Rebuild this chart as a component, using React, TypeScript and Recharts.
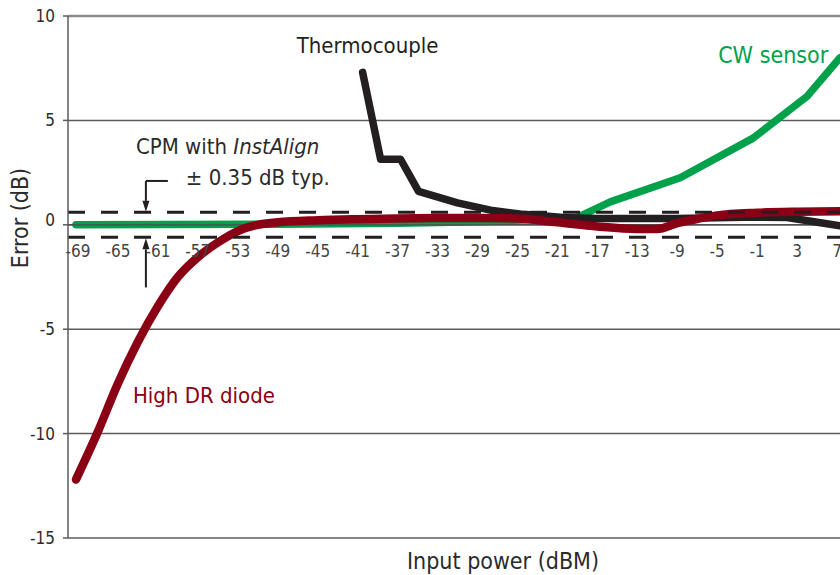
import React from 'react';
import {
  LineChart,
  Line,
  XAxis,
  YAxis,
  CartesianGrid,
  ReferenceLine,
  ReferenceDot,
  Label,
} from 'recharts';

// ---- data ----
const cwSensorPower = [-69.2, -49, -37, -29, -23, -21, -19.3, -15.7, -8.7, -1.4, 4, 7.3];
const cwSensorError = [0, 0.03, 0.08, 0.15, 0.25, 0.3, 0.28, 1.1, 2.25, 4.15, 6.15, 8.0];

const thermoPower = [-40.5, -38.7, -36.7, -34.9, -31, -27.7, -24.4, -20.4, -17, -9, -1, 2, 7.3];
const thermoError = [7.3, 3.14, 3.14, 1.6, 1.05, 0.7, 0.5, 0.35, 0.3, 0.3, 0.37, 0.35, -0.05];

const diodePower = [-69.2, -67, -65, -63, -61, -59, -57, -55, -53, -51, -49, -45, -41, -37, -33, -29, -25, -21, -17, -13, -11, -9, -7, -5, -1, 3, 7.3];
const diodeError = [-12.2, -9.9, -7.6, -5.6, -3.9, -2.5, -1.55, -0.85, -0.3, 0.0, 0.12, 0.22, 0.27, 0.3, 0.32, 0.33, 0.3, 0.12, -0.08, -0.2, -0.2, 0.08, 0.28, 0.45, 0.58, 0.63, 0.65];

const xTicks = [-69, -65, -61, -57, -53, -49, -45, -41, -37, -33, -29, -25, -21, -17, -13, -9, -5, -1, 3, 7];
const yTicks = [-15, -10, -5, 0, 5, 10];
const xDomain = [-70, 7.3];
const yDomain = [-15, 10];
const bandHalfWidth = 0.6;

const zip = (xs: number[], ys: number[]) => xs.map((p, i) => ({ power: p, error: ys[i] }));
const cwData = zip(cwSensorPower, cwSensorError);
const thermoData = zip(thermoPower, thermoError);
const diodeData = zip(diodePower, diodeError);

// ---- styling ----
const W = 840;
const H = 575;
const PLOT_TOP = 16;
const X_AXIS_H = 37;
const Y_AXIS_W = 68;
const PLOT_BOTTOM = H - X_AXIS_H;
const ZERO_Y = PLOT_TOP + ((PLOT_BOTTOM - PLOT_TOP) * (yDomain[1] - 0)) / (yDomain[1] - yDomain[0]);

const FONT = "'DejaVu Sans Condensed', 'DejaVu Sans', sans-serif";
const GREEN = '#00A14B';
const RED = '#8A0014';
const BLACK = '#231F20';
const GRID = '#5b5b5b';
const TEXT = '#2b2b2b';
const COND = { fontStretch: 'condensed' } as React.CSSProperties;

const XTick = (props: any) => {
  const { x, y, payload } = props;
  return (
    <text
      x={x}
      y={y - (PLOT_BOTTOM - ZERO_Y) + 32}
      textAnchor="middle"
      fill="#454545"
      fontSize={17}
      fontFamily={FONT}
      style={COND}
    >
      {payload.value}
    </text>
  );
};

const YTick = (props: any) => {
  const { x, y, payload } = props;
  return (
    <text
      x={x}
      y={y + (payload.value === 0 ? 1 : 6)}
      textAnchor="end"
      fill={TEXT}
      fontSize={17}
      fontFamily={FONT}
      style={COND}
    >
      {payload.value}
    </text>
  );
};

const Arrow = (props: any) => {
  const { x1, y1, x2, y2, stroke } = props;
  const ang = Math.atan2(y2 - y1, x2 - x1);
  const len = 11;
  const half = 3.5;
  const bx = x2 - len * Math.cos(ang);
  const by = y2 - len * Math.sin(ang);
  const px = -Math.sin(ang) * half;
  const py = Math.cos(ang) * half;
  return (
    <g>
      <line x1={x1} y1={y1} x2={bx} y2={by} stroke={stroke} strokeWidth={2} />
      <polygon points={`${x2},${y2} ${bx + px},${by + py} ${bx - px},${by - py}`} fill={stroke} />
    </g>
  );
};

const Plain = (props: any) => {
  const { x1, y1, x2, y2, stroke } = props;
  return <line x1={x1} y1={y1} x2={x2} y2={y2} stroke={stroke} strokeWidth={2} />;
};

const textShape = (content: React.ReactNode, color: string, size = 22) => (p: any) => (
  <text x={p.cx} y={p.cy} fill={color} fontSize={size} fontFamily={FONT} style={COND}>
    {content}
  </text>
);

export default function App() {
  return (
    <div style={{ position: 'absolute', left: 0, top: 0, width: W, height: H, overflow: 'hidden', background: '#fff' }}>
      <LineChart
        width={W}
        height={H}
        margin={{ top: PLOT_TOP, right: 0, bottom: 0, left: 0 }}
        style={{ fontFamily: FONT }}
      >
        <CartesianGrid vertical={false} stroke={GRID} strokeWidth={1.5} />
        <XAxis
          dataKey="power"
          type="number"
          domain={xDomain}
          ticks={xTicks}
          interval={0}
          allowDataOverflow
          axisLine={false}
          tickLine={false}
          tickSize={0}
          tickMargin={0}
          height={X_AXIS_H}
          tick={<XTick />}
        >
          <Label
            content={(p: any) => {
              const vb = p.viewBox;
              return (
                <text
                  x={vb.x + vb.width / 2 + 49}
                  y={vb.y + vb.height - 6}
                  textAnchor="middle"
                  fill={TEXT}
                  fontSize={23}
                  fontFamily={FONT}
                  style={COND}
                >
                  Input power (dBM)
                </text>
              );
            }}
          />
        </XAxis>
        <YAxis
          type="number"
          domain={yDomain}
          ticks={yTicks}
          interval={0}
          allowDataOverflow
          width={Y_AXIS_W}
          axisLine={{ stroke: GRID, strokeWidth: 1.5 }}
          tickLine={{ stroke: GRID, strokeWidth: 1.5 }}
          tickSize={5}
          tickMargin={8}
          tick={<YTick />}
        >
          <Label
            content={(p: any) => {
              const vb = p.viewBox;
              const cx = vb.x + 28;
              const cy = vb.y + vb.height / 2 - 59;
              return (
                <text
                  x={cx}
                  y={cy}
                  transform={`rotate(-90, ${cx}, ${cy})`}
                  textAnchor="middle"
                  fill={TEXT}
                  fontSize={23}
                  fontFamily={FONT}
                  style={COND}
                >
                  Error (dB)
                </text>
              );
            }}
          />
        </YAxis>
        <ReferenceLine y={10} stroke="#8a8a8a" strokeWidth={2.5} />

        <Line
          data={cwData}
          dataKey="error"
          type="linear"
          stroke={GREEN}
          strokeWidth={7.5}
          strokeLinecap="round"
          strokeLinejoin="round"
          dot={false}
          activeDot={false}
          isAnimationActive={false}
        />
        <ReferenceLine y={0} stroke="#4d4d4d" strokeWidth={1.3} />
        <Line
          data={thermoData}
          dataKey="error"
          type="linear"
          stroke={BLACK}
          strokeWidth={7.5}
          strokeLinecap="round"
          strokeLinejoin="round"
          dot={false}
          activeDot={false}
          isAnimationActive={false}
        />
        <Line
          data={diodeData}
          dataKey="error"
          type="monotone"
          stroke={RED}
          strokeWidth={8.5}
          strokeLinecap="round"
          strokeLinejoin="round"
          dot={false}
          activeDot={false}
          isAnimationActive={false}
        />

        <ReferenceLine y={bandHalfWidth} stroke={BLACK} strokeWidth={3} strokeDasharray="17 16" />
        <ReferenceLine y={-bandHalfWidth} stroke={BLACK} strokeWidth={3} strokeDasharray="17 16" />

        <ReferenceLine
          segment={[{ x: -60.0, y: 2.1 }, { x: -62.2, y: 2.1 }]}
          stroke={BLACK}
          shape={<Plain />}
        />
        <ReferenceLine
          segment={[{ x: -62.2, y: 2.1 }, { x: -62.2, y: bandHalfWidth + 0.02 }]}
          stroke={BLACK}
          shape={<Arrow />}
        />
        <ReferenceLine
          segment={[{ x: -62.2, y: -3.0 }, { x: -62.2, y: -bandHalfWidth - 0.05 }]}
          stroke={BLACK}
          shape={<Arrow />}
        />

        <ReferenceDot x={-47.1} y={8.24} r={0} ifOverflow="visible" shape={textShape('Thermocouple', BLACK)} />
        <ReferenceDot x={-4.9} y={7.76} r={0} ifOverflow="visible" shape={textShape('CW sensor', GREEN, 23)} />
        <ReferenceDot x={-63.5} y={-8.55} r={0} ifOverflow="visible" shape={textShape('High DR diode', RED)} />
        <ReferenceDot
          x={-63.2}
          y={3.37}
          r={0}
          ifOverflow="visible"
          shape={textShape(
            <>
              <tspan>CPM with </tspan>
              <tspan fontStyle="italic">InstAlign</tspan>
            </>,
            TEXT
          )}
        />
        <ReferenceDot x={-58.2} y={1.93} r={0} ifOverflow="visible" shape={textShape('± 0.35 dB typ.', TEXT)} />
      </LineChart>
    </div>
  );
}
